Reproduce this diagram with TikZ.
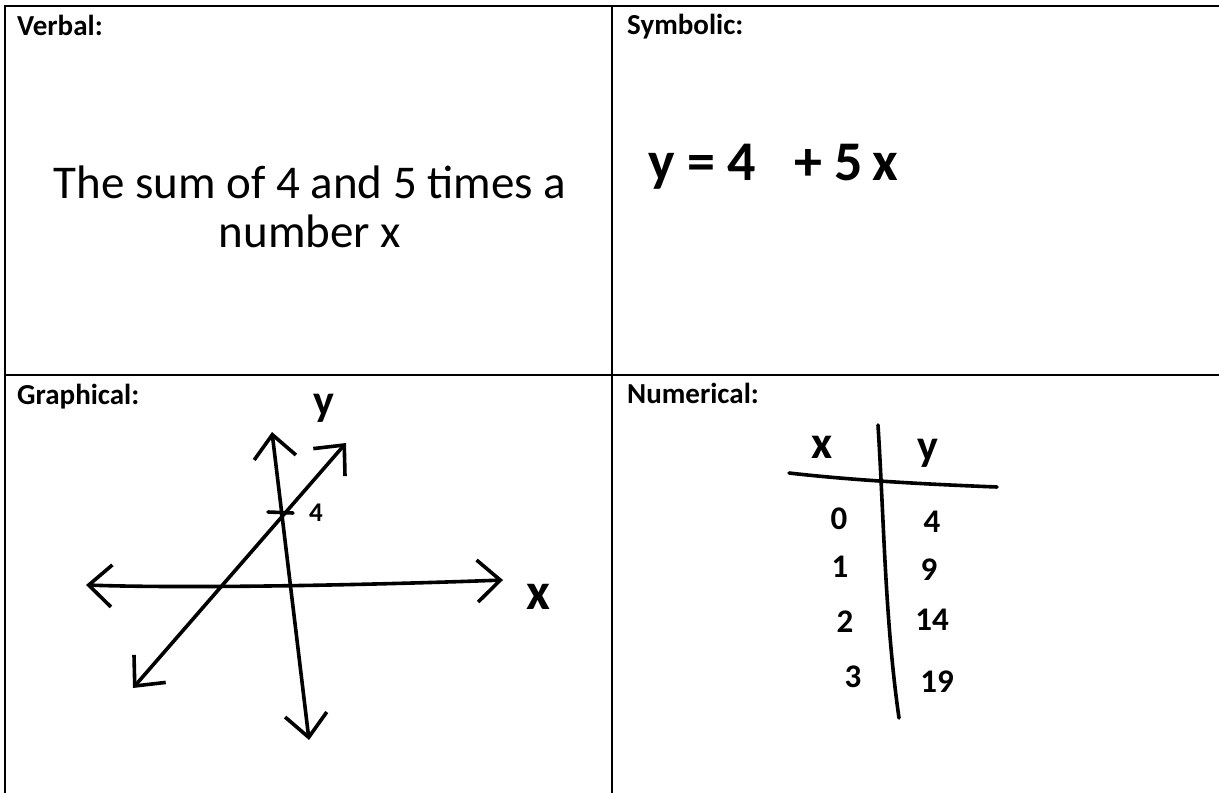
\documentclass[tikz,border=0pt]{standalone}
\usepackage{fontspec}
\setmainfont{Carlito}
\usetikzlibrary{arrows.meta}
\tikzset{
  gridline/.style={line width=2pt, black},
  handline/.style={line width=3.6pt, line cap=round, line join=round},
  handarrow/.style={handline, {Straight Barb[length=23pt,width=42pt]}-{Straight Barb[length=23pt,width=42pt]}},
  celltitle/.style={font=\bfseries\fontsize{29}{30}\selectfont, anchor=base west, inner sep=0pt},
  bigtext/.style={font=\fontsize{47}{48.5}\selectfont, align=center, inner sep=0pt},
  handtext/.style={inner sep=0pt, font=\bfseries},
  digit/.style={handtext, font=\bfseries\fontsize{33}{33}\selectfont}
}

\begin{document}
\begin{tikzpicture}[x=1pt, y=-1pt]
  \useasboundingbox (0,0) rectangle (1219,793);
  \fill[white] (0,0) rectangle (1219,793);

  % table
  \coordinate (tl) at (5,6);
  \coordinate (tr) at (1219,6);
  \coordinate (bl) at (5,793);
  \coordinate (tm) at (612,6);
  \coordinate (bm) at (612,793);
  \coordinate (ml) at (5,375);
  \coordinate (mr) at (1219,375);
  \draw[gridline] (tr) -- (tl) -- (bl);
  \draw[gridline] (tm) -- (bm);
  \draw[gridline] (ml) -- (mr);

  \node[celltitle] (verbal) at (17,35) {Verbal:};
  \node[celltitle] (symbolic) at (627,34) {Symbolic:};
  \node[celltitle] (graphical) at (17,404) {Graphical:};
  \node[celltitle] (numerical) at (627,403) {Numerical:};

  % verbal
  \node[bigtext] (sentence) at (310,207) {The sum of 4 and 5 times a\\number x};

  % symbolic
  \node[handtext, anchor=base west, font=\bfseries\fontsize{56}{56}\selectfont] (equation) at (648,180) {y = 4 \ \ + 5\,x};

  % graphical
  \coordinate (ytop) at (272,432);
  \coordinate (ybot) at (309,740);
  \coordinate (xleft) at (86,585);
  \coordinate (xright) at (503,580);
  \coordinate (lbot) at (133,688);
  \coordinate (ltop) at (346,443);
  \coordinate (tickl) at (268,512);
  \coordinate (tickr) at (293,513);
  \draw[handarrow] (ytop) -- (ybot);
  \draw[handarrow] (xleft) .. controls (200,589) and (400,584) .. (xright);
  \draw[handarrow] (lbot) -- (ltop);
  \draw[handline] (tickl) -- (tickr);
  \node[handtext, font=\bfseries\fontsize{44}{44}\selectfont] (ylab) at (324,408) {y};
  \node[handtext, font=\bfseries\fontsize{52}{52}\selectfont] (xlab) at (538,597) {x};
  \node[handtext, font=\bfseries\fontsize{27}{27}\selectfont] (fourlab) at (316,513) {4};

  % numerical
  \coordinate (vtop) at (878,425);
  \coordinate (vbot) at (899,718);
  \coordinate (hleft) at (789,473);
  \coordinate (hright) at (997,487);
  \draw[handline] (vtop) .. controls (884,520) and (885,620) .. (vbot);
  \draw[handline] (hleft) .. controls (850,480) and (920,484) .. (hright);
  \node[handtext, font=\bfseries\fontsize{46}{46}\selectfont] (xhead) at (822,447) {x};
  \node[handtext, font=\bfseries\fontsize{44}{44}\selectfont] (yhead) at (928,453) {y};
  \node[digit] (x0) at (839,519) {0};
  \node[digit] (y0) at (932,522) {4};
  \node[digit] (x1) at (840,567) {1};
  \node[digit] (y1) at (929,570) {9};
  \node[digit] (x2) at (845,622) {2};
  \node[digit] (y2) at (932,620) {14};
  \node[digit] (x3) at (853,677) {3};
  \node[digit] (y3) at (937,682) {19};
\end{tikzpicture}
\end{document}
